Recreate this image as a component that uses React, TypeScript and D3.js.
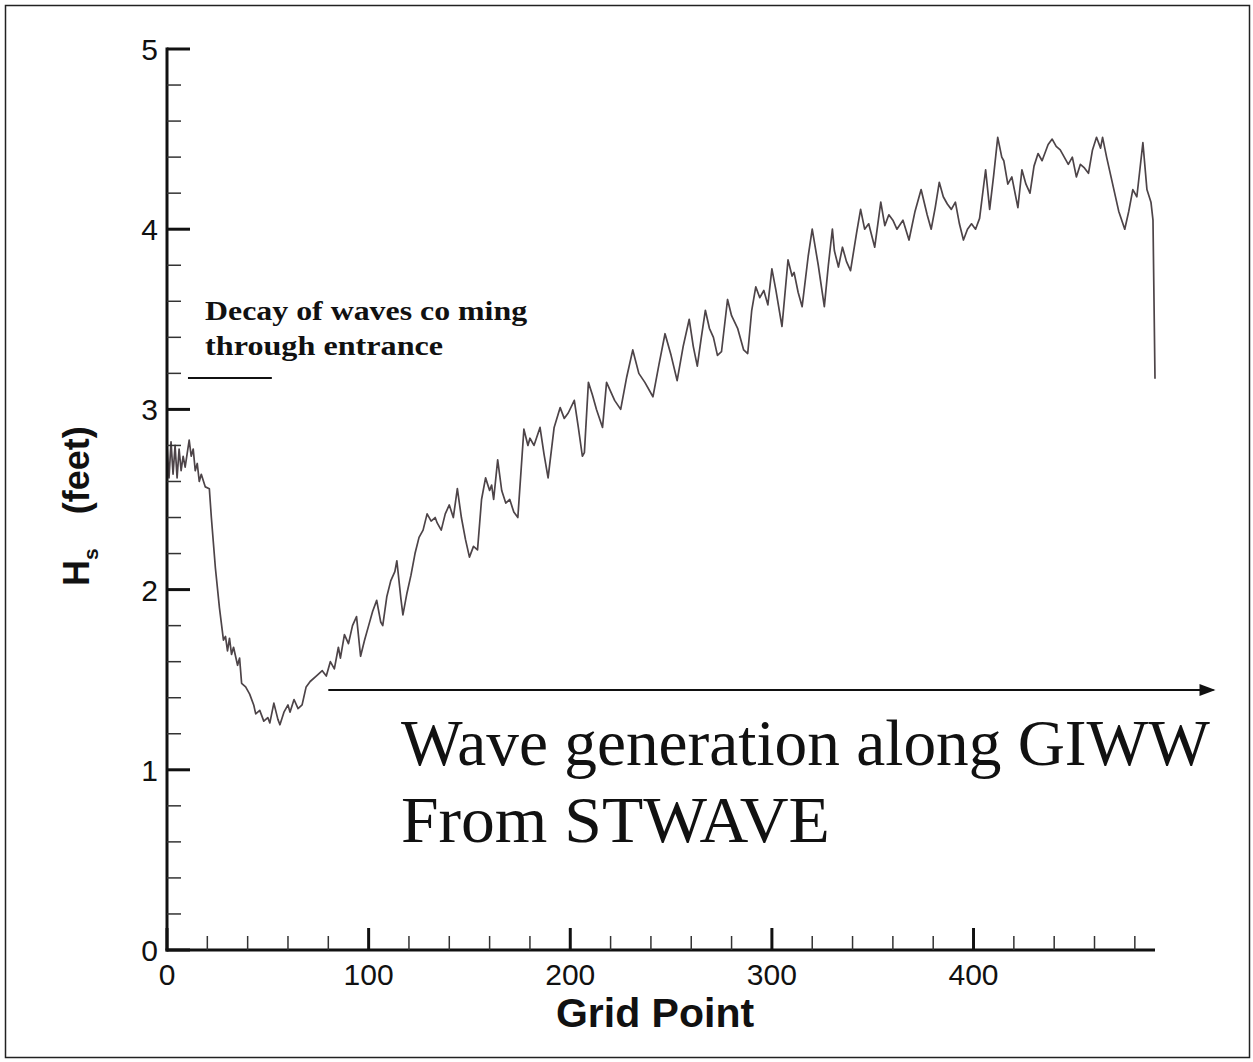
import React from "react";
import * as d3 from "d3";

const gridPoints = [0,1,2,3,4,5,6,7,8,9,11,12,13,14,15,16,17,19,21,22,24,26,28,29,30,31,32,33,35,36,37,39,41,43,44,46,48,50,51,53,55,56,58,60,61,63,65,67,69,71,74,77,79,81,83,85,86,88,90,92,94,96,98,100,102,104,106,107,109,111,113,114,116,117,119,121,123,125,127,129,131,133,134,136,138,140,142,144,146,148,150,152,154,156,158,160,161,162,164,166,168,170,172,174,177,179,180,182,185,187,189,192,195,197,199,202,204,206,207,209,211,213,216,218,220,222,225,228,231,234,237,241,244,247,250,253,256,259,261,263,265,267,269,271,273,275,278,280,283,286,288,290,292,294,296,298,300,302,305,308,310,311,313,315,318,320,323,326,328,330,331,333,335,337,339,342,344,346,348,351,354,356,358,360,362,365,368,371,374,377,379,381,383,385,387,389,391,393,395,397,399,401,403,406,408,410,412,414,415,417,419,422,424,426,428,430,432,434,437,439,441,443,445,447,449,451,453,455,457,459,461,463,464,466,469,472,475,477,479,481,484,486,488,489,490];
const hsValues = [2.80,2.62,2.82,2.64,2.80,2.62,2.78,2.66,2.74,2.68,2.83,2.74,2.78,2.66,2.70,2.60,2.64,2.57,2.56,2.40,2.12,1.90,1.72,1.74,1.66,1.73,1.64,1.68,1.58,1.62,1.48,1.46,1.42,1.36,1.31,1.33,1.27,1.29,1.26,1.37,1.28,1.25,1.32,1.36,1.32,1.39,1.34,1.36,1.46,1.49,1.52,1.55,1.52,1.60,1.56,1.68,1.62,1.75,1.70,1.80,1.85,1.63,1.72,1.80,1.88,1.94,1.82,1.80,1.96,2.05,2.10,2.16,1.95,1.86,1.98,2.08,2.20,2.29,2.33,2.42,2.38,2.40,2.37,2.33,2.42,2.47,2.40,2.56,2.40,2.28,2.18,2.24,2.22,2.50,2.62,2.55,2.58,2.50,2.72,2.55,2.48,2.50,2.43,2.40,2.89,2.80,2.84,2.80,2.90,2.75,2.62,2.90,3.01,2.95,2.98,3.05,2.90,2.74,2.76,3.15,3.08,3.00,2.90,3.15,3.10,3.05,3.00,3.18,3.33,3.20,3.15,3.07,3.25,3.42,3.30,3.16,3.35,3.50,3.35,3.24,3.40,3.55,3.45,3.40,3.30,3.32,3.61,3.52,3.45,3.33,3.31,3.55,3.68,3.62,3.66,3.58,3.78,3.66,3.46,3.83,3.74,3.76,3.65,3.57,3.85,4.00,3.80,3.57,3.80,4.00,3.88,3.79,3.90,3.82,3.77,3.98,4.11,4.00,4.03,3.90,4.15,4.02,4.08,4.05,4.00,4.05,3.94,4.10,4.22,4.08,4.00,4.12,4.26,4.18,4.14,4.11,4.15,4.03,3.94,4.00,4.03,4.00,4.06,4.33,4.11,4.30,4.51,4.40,4.38,4.25,4.29,4.12,4.33,4.25,4.20,4.35,4.42,4.38,4.47,4.50,4.46,4.44,4.40,4.36,4.40,4.29,4.36,4.34,4.31,4.44,4.51,4.45,4.51,4.40,4.25,4.10,4.00,4.10,4.22,4.18,4.48,4.22,4.15,4.05,3.17];

const xMajorTicks = [0, 100, 200, 300, 400];
const yMajorTicks = [0, 1, 2, 3, 4, 5];
const xTickLabels = ["0", "100", "200", "300", "400"];
const yTickLabels = ["0", "1", "2", "3", "4", "5"];
const xMinorStep = 20;
const yMinorStep = 0.2;

const xDomain = [0, 490];
const yDomain = [0, 5];

export default function App() {
  const W = 1253, H = 1062;
  const x = d3.scaleLinear().domain(xDomain).range([167, 1155]);
  const y = d3.scaleLinear().domain(yDomain).range([950, 49]);
  const data = gridPoints.map((g, i) => [g, hsValues[i]] as [number, number]);
  const line = d3.line<[number, number]>().x(d => x(d[0])).y(d => y(d[1]));

  const xMinors = d3.range(0, 490.1, xMinorStep).filter(v => v % 100 !== 0);
  const yMinors = d3.range(0, 5.01, yMinorStep).map(v => Math.round(v * 10) / 10).filter(v => Math.abs(v - Math.round(v)) > 1e-6);

  const sans = "'Liberation Sans', Arial, sans-serif";
  const serif = "'Liberation Serif', 'Times New Roman', serif";

  return (
    <svg width={W} height={H} style={{ position: "absolute", left: 0, top: 0, background: "#fff" }}>
      <rect x={0} y={0} width={W} height={H} fill="#fff" />
      <rect x={5.5} y={5.5} width={1244} height={1052} fill="none" stroke="#222" strokeWidth={1.5} />

      {/* data line */}
      <path d={line(data) || ""} fill="none" stroke="#4d4448" strokeWidth={1.7} strokeLinejoin="round" />

      {/* axes */}
      <line x1={x(0)} x2={x(0)} y1={y(0) + 1.5} y2={y(5) - 1.5} stroke="#111" strokeWidth={3} />
      <line x1={x(0) - 1.5} x2={x(490)} y1={y(0)} y2={y(0)} stroke="#111" strokeWidth={3} />

      {yMajorTicks.map(v => (
        <line key={"ym" + v} x1={x(0)} x2={x(0) + 23} y1={y(v)} y2={y(v)} stroke="#111" strokeWidth={3} />
      ))}
      {yMinors.map(v => (
        <line key={"yn" + v} x1={x(0)} x2={x(0) + 14} y1={y(v)} y2={y(v)} stroke="#333" strokeWidth={1.5} />
      ))}
      {xMajorTicks.map(v => (
        <line key={"xm" + v} x1={x(v)} x2={x(v)} y1={y(0)} y2={y(0) - 22} stroke="#111" strokeWidth={3} />
      ))}
      {xMinors.map(v => (
        <line key={"xn" + v} x1={x(v)} x2={x(v)} y1={y(0)} y2={y(0) - 14} stroke="#333" strokeWidth={1.5} />
      ))}

      {xMajorTicks.map((v, i) => (
        <text key={"xl" + v} x={x(v)} y={985} textAnchor="middle" fontFamily={sans} fontSize={30} fill="#111">{xTickLabels[i]}</text>
      ))}
      {yMajorTicks.map((v, i) => (
        <text key={"yl" + v} x={158} y={y(v) + 11} textAnchor="end" fontFamily={sans} fontSize={30} fill="#111">{yTickLabels[i]}</text>
      ))}

      <text x={655} y={1027} textAnchor="middle" fontFamily={sans} fontSize={41} fontWeight="bold" fill="#111">Grid Point</text>
      <text transform="translate(89,586) rotate(-90)" fontFamily={sans} fontSize={36} fontWeight="bold" fill="#111">
        <tspan>H</tspan>
        <tspan fontSize={21} dy={9}>s</tspan>
        <tspan dy={-9} dx={34}>(feet)</tspan>
      </text>

      {/* annotations */}
      <text x={x(18.9)} y={y(3.496)} fontFamily={serif} fontSize={27} fontWeight="bold" fill="#111" textLength={322} lengthAdjust="spacingAndGlyphs">Decay of waves co ming</text>
      <text x={x(18.9)} y={y(3.302)} fontFamily={serif} fontSize={27} fontWeight="bold" fill="#111" textLength={238} lengthAdjust="spacingAndGlyphs">through entrance</text>
      <line x1={x(10.4)} x2={x(52)} y1={y(3.174)} y2={y(3.174)} stroke="#111" strokeWidth={2} />

      <line x1={x(80)} x2={x(519)} y1={y(1.443)} y2={y(1.443)} stroke="#111" strokeWidth={2} />
      <path d={`M${x(519) + 2},${y(1.443)} L${x(519) - 14},${y(1.443) - 6} L${x(519) - 14},${y(1.443) + 6} Z`} fill="#111" />

      <text x={x(116)} y={y(1.027)} fontFamily={serif} fontSize={65} fill="#111" textLength={809} lengthAdjust="spacingAndGlyphs">Wave generation along GIWW</text>
      <text x={x(116)} y={y(0.60)} fontFamily={serif} fontSize={65} fill="#111" textLength={429} lengthAdjust="spacingAndGlyphs">From STWAVE</text>
    </svg>
  );
}
